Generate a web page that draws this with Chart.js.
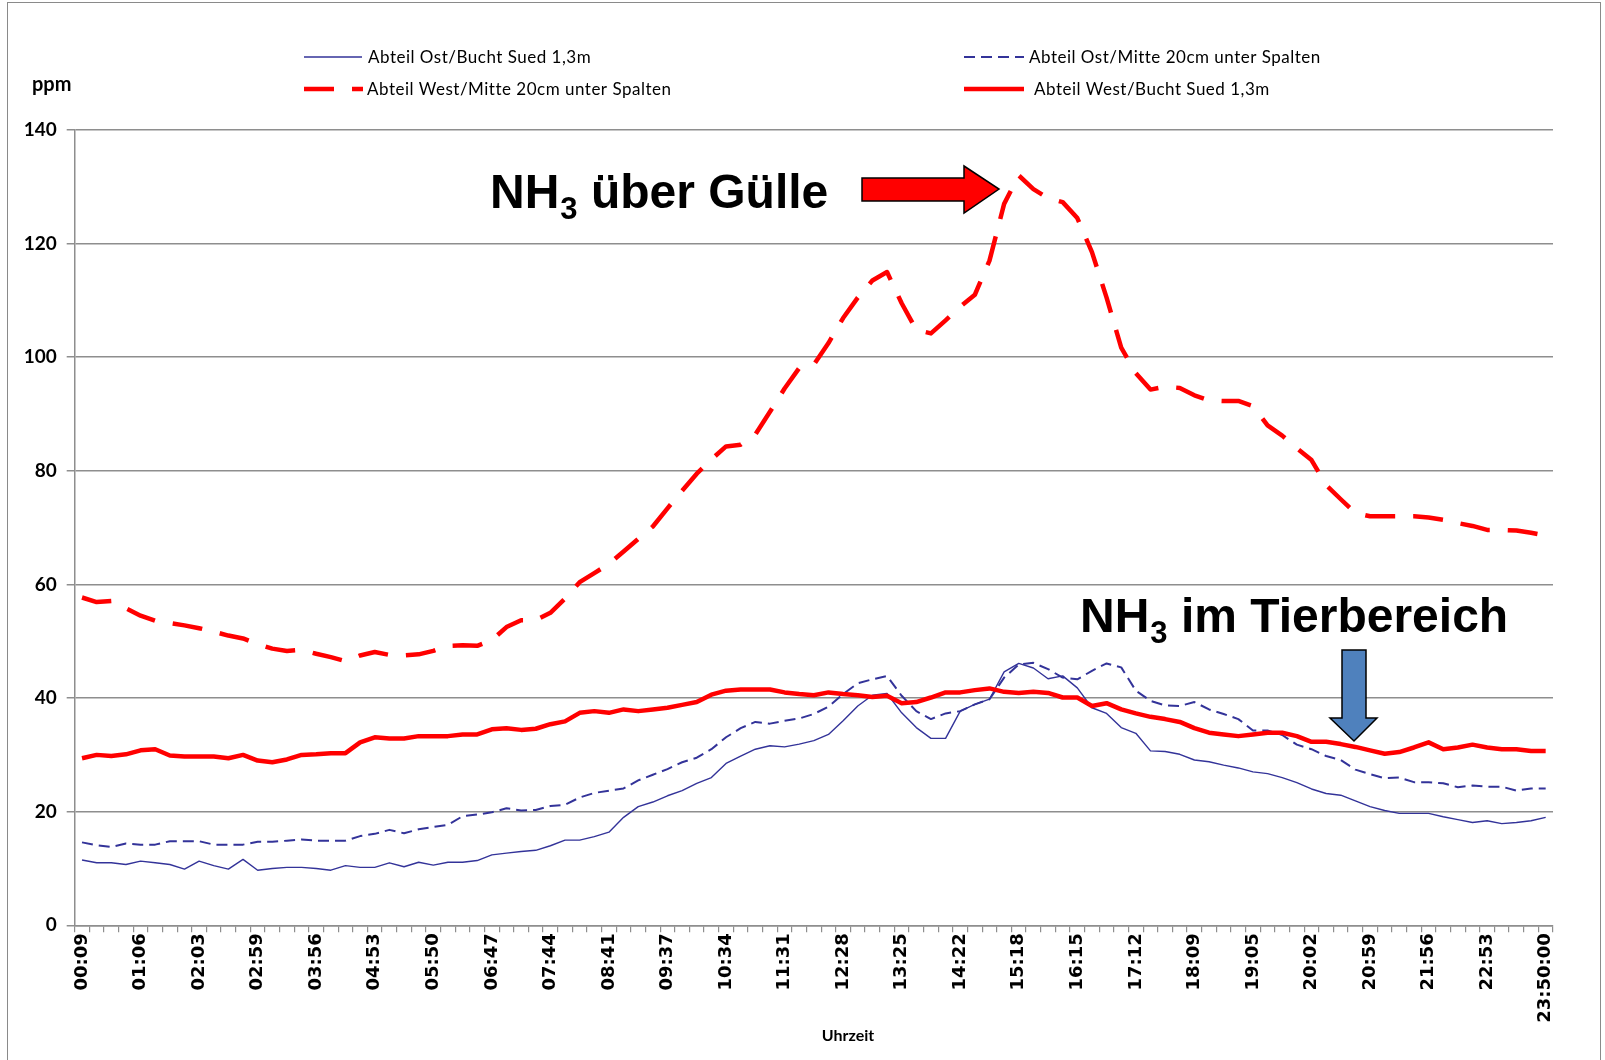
<!DOCTYPE html>
<html lang="de">
<head>
<meta charset="UTF-8">
<title>NH3 Verlauf</title>
<script src="https://cdn.jsdelivr.net/npm/chart.js@4.4.1/dist/chart.umd.min.js"></script>
<style>
  body { margin: 0; background: #fff; }
  .wrap { position: relative; width: 1605px; height: 1060px; overflow: hidden; }
  .frame { position: absolute; left: 7px; top: 2px; width: 1592px; height: 1100px; border: 1.5px solid #8a8a8a; }
  canvas { position: absolute; left: 0; top: 0; }
</style>
</head>
<body>
<div class="wrap">
  <div class="frame"></div>
  <canvas id="chart" width="1605" height="1060"></canvas>
</div>
<script>
// tick labels, one every 4 measurements
const tickLabels = ['00:09','01:06','02:03','02:59','03:56','04:53','05:50','06:47','07:44','08:41',
  '09:37','10:34','11:31','12:28','13:25','14:22','15:18','16:15','17:12','18:09','19:05','20:02',
  '20:59','21:56','22:53','23:50:00'];

const seriesNames = ['Abteil Ost/Bucht Sued 1,3m', 'Abteil Ost/Mitte 20cm unter Spalten',
  'Abteil West/Mitte 20cm unter Spalten', 'Abteil West/Bucht Sued 1,3m'];

// ppm, 101 measurements each
const ostBucht = [11.5,11.0,11.0,10.7,11.3,11.0,10.7,9.9,11.3,10.5,
  9.9,11.6,9.7,10.0,10.2,10.2,10.0,9.7,10.5,10.2,
  10.2,11.0,10.3,11.1,10.6,11.1,11.1,11.4,12.4,12.7,
  13.0,13.2,14.0,15.0,15.0,15.6,16.4,19.0,20.9,21.7,
  22.8,23.7,25.0,26.0,28.5,29.8,31.0,31.6,31.4,31.9,
  32.5,33.6,36.0,38.6,40.5,40.8,37.4,34.8,32.9,32.9,
  37.7,38.9,39.8,44.6,46.1,45.3,43.4,43.9,41.8,38.3,
  37.3,34.8,33.8,30.7,30.6,30.1,29.1,28.8,28.2,27.7,
  27.0,26.7,26.0,25.1,24.0,23.2,22.9,21.9,20.9,20.2,
  19.7,19.7,19.7,19.1,18.6,18.1,18.4,17.9,18.1,18.4,
  19.0];

const ostMitte = [14.6,14.1,13.8,14.4,14.2,14.2,14.8,14.8,14.8,14.2,
  14.2,14.2,14.7,14.7,14.9,15.1,14.9,14.9,14.9,15.7,
  16.1,16.8,16.2,16.9,17.3,17.7,19.2,19.5,19.9,20.6,
  20.2,20.3,21.0,21.2,22.5,23.3,23.7,24.1,25.5,26.5,
  27.5,28.7,29.5,31.0,33.1,34.7,35.8,35.5,36.0,36.4,
  37.2,38.5,40.7,42.6,43.3,43.9,40.4,37.7,36.3,37.3,
  37.7,38.9,39.8,43.6,45.9,46.2,45.1,43.6,43.3,44.8,
  46.1,45.4,41.3,39.5,38.7,38.6,39.3,38.0,37.2,36.3,
  34.3,34.3,33.5,31.8,31.0,29.8,29.1,27.4,26.6,25.9,
  26.0,25.2,25.2,25.0,24.3,24.6,24.4,24.4,23.7,24.1,
  24.1];

const westMitte = [57.7,56.9,57.1,55.8,54.5,53.6,53.2,52.8,52.3,51.7,
  51.0,50.5,49.5,48.7,48.3,48.5,47.8,47.2,46.5,47.5,
  48.1,47.6,47.5,47.7,48.3,49.2,49.3,49.2,50.2,52.5,
  53.7,53.7,55.0,57.5,60.4,62.0,63.6,65.8,68.0,70.2,
  73.4,76.5,79.5,82.0,84.3,84.6,86.4,90.4,94.5,98.1,
  98.7,102.5,106.9,110.5,113.5,115.0,109.5,104.8,104.2,106.5,
  108.9,111.0,117.0,127.0,132.0,129.6,128.0,127.3,124.5,118.5,
  110.5,101.7,97.2,94.3,94.8,94.6,93.3,92.4,92.3,92.3,
  91.4,88.0,86.2,84.0,81.9,77.5,75.0,72.6,72.0,72.0,
  72.0,72.0,71.8,71.4,70.8,70.3,69.6,69.6,69.5,69.1,
  68.6];

const westBucht = [29.4,30.0,29.8,30.1,30.8,31.0,29.9,29.7,29.7,29.7,
  29.4,30.0,29.0,28.7,29.2,30.0,30.1,30.3,30.3,32.2,
  33.1,32.9,32.9,33.3,33.3,33.3,33.6,33.6,34.5,34.7,
  34.4,34.6,35.4,35.9,37.4,37.7,37.4,38.0,37.7,38.0,
  38.3,38.8,39.3,40.6,41.3,41.5,41.5,41.5,41.0,40.7,
  40.5,41.0,40.7,40.5,40.2,40.4,39.1,39.3,40.1,41.0,
  41.0,41.4,41.7,41.1,40.9,41.1,40.9,40.1,40.1,38.6,
  39.1,38.0,37.3,36.7,36.3,35.8,34.7,33.9,33.6,33.3,
  33.6,33.9,33.9,33.3,32.3,32.3,31.9,31.4,30.8,30.2,
  30.5,31.3,32.2,31.0,31.3,31.8,31.3,31.0,31.0,30.7,
  30.7];

const categories = ostBucht.map((v, i) => (i % 4 === 0 ? tickLabels[i / 4] : ''));

const NAVY = '#333399';
const RED = '#ff0000';
const GRID = '#8e8e8e';

const lineStyles = [
  { color: NAVY, width: 1.4, dash: [] },
  { color: NAVY, width: 2, dash: [11, 6] },
  { color: RED, width: 4.5, dash: [30, 18] },
  { color: RED, width: 4.5, dash: [] }
];

function drawSample(ctx, x1, x2, y, st) {
  ctx.save();
  ctx.strokeStyle = st.color;
  ctx.lineWidth = st.width;
  ctx.setLineDash(st.dash);
  ctx.beginPath();
  ctx.moveTo(x1, y);
  ctx.lineTo(x2, y);
  ctx.stroke();
  ctx.restore();
}

function drawNH3(ctx, x, baseline, rest) {
  ctx.fillStyle = '#000';
  ctx.textBaseline = 'alphabetic';
  ctx.textAlign = 'left';
  ctx.font = 'bold 48px "Liberation Sans", Arial, sans-serif';
  ctx.fillText('NH', x, baseline);
  let w = ctx.measureText('NH').width;
  ctx.font = 'bold 31px "Liberation Sans", Arial, sans-serif';
  ctx.fillText('3', x + w + 1, baseline + 11);
  w += 1 + ctx.measureText('3').width;
  ctx.font = 'bold 48px "Liberation Sans", Arial, sans-serif';
  ctx.fillText(rest, x + w, baseline);
}

function shape(ctx, pts, fill) {
  ctx.save();
  ctx.beginPath();
  pts.forEach((p, i) => (i ? ctx.lineTo(p[0], p[1]) : ctx.moveTo(p[0], p[1])));
  ctx.closePath();
  ctx.fillStyle = fill;
  ctx.fill();
  ctx.lineWidth = 1.5;
  ctx.strokeStyle = '#000';
  ctx.lineJoin = 'miter';
  ctx.stroke();
  ctx.restore();
}

const extras = {
  id: 'extras',
  afterDraw(chart) {
    const ctx = chart.ctx;
    ctx.save();

    // legend, 2 x 2
    ctx.font = '17px Lato, sans-serif';
    ctx.letterSpacing = '0.5px';
    ctx.fillStyle = '#000';
    ctx.textBaseline = 'middle';
    ctx.textAlign = 'left';
    const leg = [
      { x1: 304, x2: 362, y: 57, tx: 368, ty: 58 },
      { x1: 964, x2: 1024, y: 57, tx: 1029, ty: 58 },
      { x1: 304, x2: 363, y: 89, tx: 367, ty: 90 },
      { x1: 964, x2: 1024, y: 89, tx: 1034, ty: 90 }
    ];
    leg.forEach((l, i) => {
      drawSample(ctx, l.x1, l.x2, l.y, lineStyles[i]);
      ctx.fillText(seriesNames[i], l.tx, l.ty);
    });
    ctx.letterSpacing = '0px';

    // axis titles
    ctx.font = 'bold 20px Lato, sans-serif';
    ctx.fillText('ppm', 32, 85);
    ctx.font = 'bold 16px Lato, sans-serif';
    ctx.textAlign = 'center';
    ctx.fillText('Uhrzeit', 848, 1036);

    // annotations
    drawNH3(ctx, 490, 208, ' über Gülle');
    drawNH3(ctx, 1080, 632, ' im Tierbereich');

    shape(ctx, [[862, 178], [964, 178], [964, 166], [999, 189], [964, 213], [964, 201], [862, 201]], RED);
    shape(ctx, [[1342, 650], [1366, 650], [1366, 718], [1377, 718], [1354, 741], [1330, 718], [1342, 718]], '#4f81bd');

    ctx.restore();
  }
};

Chart.defaults.font.family = 'Lato, sans-serif';
Chart.defaults.color = '#000';

const datasets = [ostBucht, ostMitte, westMitte, westBucht].map((vals, i) => ({
  label: seriesNames[i],
  data: vals,
  borderColor: lineStyles[i].color,
  borderWidth: lineStyles[i].width,
  borderDash: lineStyles[i].dash,
  borderJoinStyle: 'round',
  pointRadius: 0,
  tension: 0,
  fill: false,
  order: 3 - i
}));

new Chart(document.getElementById('chart'), {
  type: 'line',
  data: { labels: categories, datasets: datasets },
  options: {
    responsive: false,
    animation: false,
    devicePixelRatio: 1,
    layout: { padding: { left: 0, top: 130, right: 52, bottom: 0 } },
    plugins: { legend: { display: false }, tooltip: { enabled: false } },
    scales: {
      x: {
        type: 'category',
        offset: true,
        grid: { offset: true, drawOnChartArea: false, drawTicks: true, tickLength: 7, color: GRID, lineWidth: 1.2 },
        border: { display: true, color: GRID, width: 1.5 },
        ticks: {
          autoSkip: false, maxRotation: 90, minRotation: 90, padding: 1,
          font: { family: '"DejaVu Sans", Verdana, sans-serif', weight: 'bold', size: 18 },
          color: '#000'
        },
        afterFit(scale) { scale.height = 134.7; }
      },
      y: {
        min: 0, max: 140,
        ticks: { stepSize: 20, padding: 10, font: { weight: 'bold', size: 19 }, color: '#000' },
        grid: { color: GRID, lineWidth: 1.5, tickLength: 8 },
        border: { display: true, color: GRID, width: 1.5 },
        afterFit(scale) { scale.width = 74.7; }
      }
    }
  },
  plugins: [extras]
});
</script>
</body>
</html>
